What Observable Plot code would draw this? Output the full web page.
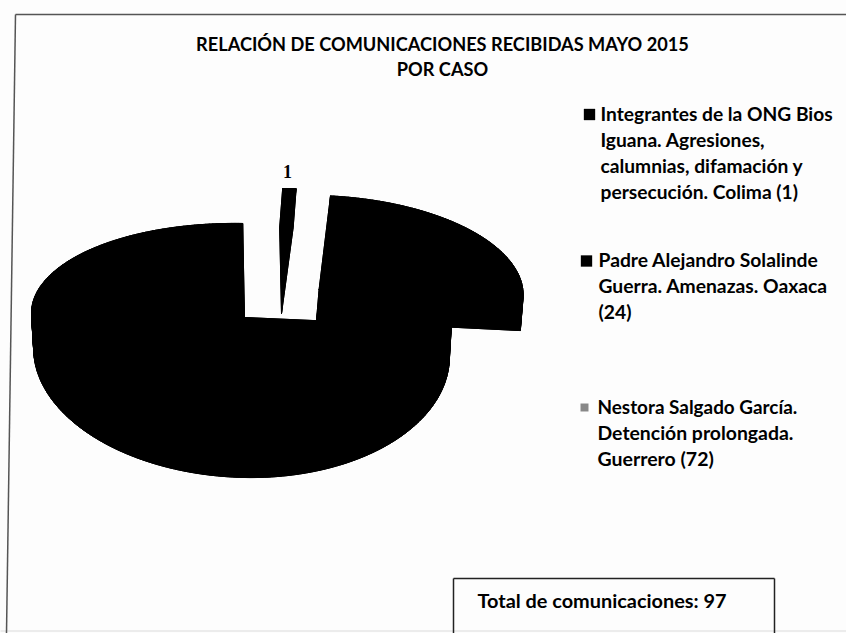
<!DOCTYPE html>
<html>
<head>
<meta charset="utf-8">
<script src="https://cdn.jsdelivr.net/npm/d3@7"></script>
<script src="https://cdn.jsdelivr.net/npm/@observablehq/plot@0.6"></script>
<style>html,body{margin:0;padding:0;background:#fdfdfd}svg{display:block}</style>
</head>
<body>
<div id="chart"></div>
<script>
const tituloLineas = ["RELACIÓN DE COMUNICACIONES RECIBIDAS MAYO 2015", "POR CASO"];
const valores = [1, 24, 72];
const casosLineas = [
  ["Integrantes de la ONG Bios", "Iguana. Agresiones,", "calumnias, difamación y", "persecución. Colima (1)"],
  ["Padre Alejandro Solalinde", "Guerra. Amenazas. Oaxaca", "(24)"],
  ["Nestora Salgado García.", "Detención prolongada.", "Guerrero (72)"]
];
const total = "Total de comunicaciones: 97";
const etiquetaValor = ["1"];

// Drawing geometry of the tilted, exploded pie (one entry per slice)
const geometria = [
  {cx: 284, cy: 274, rxL: 208, rxR: 208, back: 86, front: 125, depth: 39, shear: 0, lean: -3, esc: 1},
  {cx: 318.6, cy: 289, rxL: 204, rxR: 204, back: 94, front: 125, depth: 31, shear: 0.025, lean: -2.6, esc: 1},
  {cx: 244, cy: 317, rxL: 213, rxR: 207, back: 94, front: 125, depth: 35, shear: 0.02, lean: 0, esc: 0.99}
];
const rot = -0.5 * Math.PI / 180;
const arcos = d3.pie().sort(null).value(d => d).startAngle(rot).endAngle(rot + 2 * Math.PI)(valores);

function punto(g, a, abajo) {
  const c = Math.cos(a), s = Math.sin(a);
  const dx = (s < 0 ? g.rxL : g.rxR) * s * (abajo ? g.esc : 1);
  return {
    x: g.cx + dx + (abajo ? g.lean : 0),
    y: g.cy - c * (c > 0 ? g.back : g.front) + g.shear * dx + (abajo ? g.depth : 0)
  };
}
const filas = [];
arcos.forEach((arc, i) => {
  const g = geometria[i];
  const n = Math.max(4, Math.round((arc.endAngle - arc.startAngle) * 180 / Math.PI));
  const as = d3.range(n + 1).map(k => arc.startAngle + (arc.endAngle - arc.startAngle) * k / n);
  const arriba = as.map(a => punto(g, a, false));
  const abajo = as.map(a => punto(g, a, true));
  const c0 = {x: g.cx, y: g.cy}, c1 = {x: g.cx + g.lean, y: g.cy + g.depth};
  const partes = [
    [c0, ...arriba],
    [c1, ...abajo],
    [c0, arriba[0], abajo[0], c1],
    [c0, arriba[n], abajo[n], c1],
    ...d3.range(n).map(k => [arriba[k], arriba[k + 1], abajo[k + 1], abajo[k]])
  ];
  partes.forEach((p, j) => p.concat([p[0]]).forEach(q => filas.push({x: q.x, y: q.y, z: `${i}-${j}`})));
});

// Legend rows
const xTexto = [600, 598, 597], yLeyenda = [120, 266, 413], paso = 26.2;
const tamanos = [[19.2, 19.2, 19.2, 19.2], [19.3, 19.3, 19.3], [18.9, 19.4, 19.5]];
const marcas = [
  {x: 589, y: 114, c: "#000", r: 6.4},
  {x: 586, y: 260.5, c: "#000", r: 6.4},
  {x: 584, y: 407, c: "#888", r: 4.5}
];
const filasLeyenda = casosLineas.flatMap((ls, i) => ls.map((t, k) => ({t, x: xTexto[i], y: yLeyenda[i] + k * paso, s: tamanos[i][k]})));

const fuente = "Lato, 'Noto Sans', sans-serif";
const plot = Plot.plot({
  width: 846, height: 633,
  margin: 0,
  x: {domain: [0, 846], range: [0, 846], axis: null},
  y: {domain: [0, 633], range: [0, 633], axis: null},
  r: {type: "identity"},
  style: {background: "#fdfdfd"},
  marks: [
    Plot.link([{x1: 0, y1: 630.5, x2: 846, y2: 630.5}], {x1: "x1", y1: "y1", x2: "x2", y2: "y2", stroke: "#e6e6e6", strokeWidth: 1.5}),
    Plot.link([{x1: 15, y1: 14, x2: 846, y2: 14}, {x1: 15, y1: 14, x2: 6, y2: 633}], {x1: "x1", y1: "y1", x2: "x2", y2: "y2", stroke: "#555", strokeWidth: 1.5}),
    Plot.line(filas, {x: "x", y: "y", z: "z", fill: "#000", stroke: "#000", strokeWidth: 1}),
    Plot.text(etiquetaValor, {x: () => 287, y: () => 177.5, text: d => d, fontFamily: "'Liberation Serif', serif", fontWeight: 700, fontSize: 18, fill: "#000", lineAnchor: "bottom"}),
    Plot.text(tituloLineas, {x: () => 442, y: (d, i) => [50, 75][i], text: d => d, fontFamily: fuente, fontWeight: 700, fontSize: 18.2, fill: "#000", lineAnchor: "bottom", textAnchor: "middle"}),
    Plot.dot(marcas, {x: "x", y: "y", r: "r", symbol: "square", fill: "c", stroke: "none"}),
    Plot.text(filasLeyenda, {x: "x", y: "y", text: "t", fontFamily: fuente, fontWeight: 700, fontSize: "s", fill: "#000", textAnchor: "start", lineAnchor: "bottom"}),
    Plot.link([{x1: 453, y1: 578, x2: 774, y2: 578}, {x1: 453, y1: 578, x2: 453, y2: 633}, {x1: 774, y1: 578, x2: 774, y2: 633}], {x1: "x1", y1: "y1", x2: "x2", y2: "y2", stroke: "#222", strokeWidth: 1.5}),
    Plot.text([total], {x: () => 477, y: () => 607, text: d => d, fontFamily: fuente, fontWeight: 700, fontSize: 19.9, fill: "#000", textAnchor: "start", lineAnchor: "bottom"})
  ]
});
document.getElementById("chart").appendChild(plot);
</script>
</body>
</html>
